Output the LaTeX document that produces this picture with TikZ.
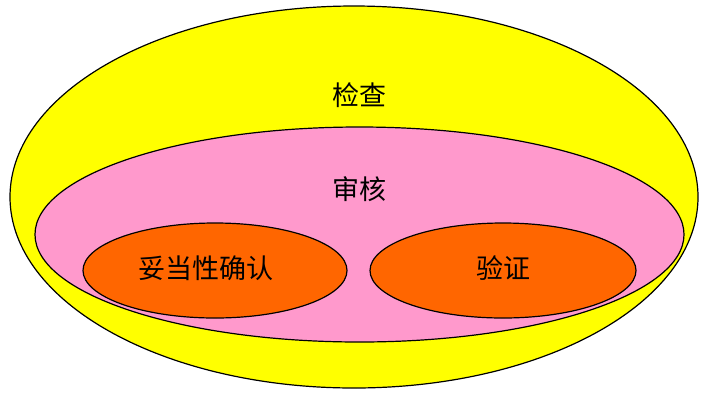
\documentclass[tikz,border=0pt]{standalone}
\usepackage{fontspec}
\newfontfamily\cjk{Noto Sans CJK SC}
\usepackage{tikz}
\usetikzlibrary{shapes, positioning}
\definecolor{yel}{HTML}{FFFF00}
\definecolor{pnk}{HTML}{FF99CC}
\definecolor{org}{HTML}{FF6600}

\begin{document}
\begin{tikzpicture}[x=1pt, y=-1pt,
	set/.style={ellipse, draw, line width=1.2pt, inner sep=0pt},
	lbl/.style={font=\cjk\fontsize{27}{27}\selectfont}]
	\useasboundingbox (0,0) rectangle (701,392);
	\node[set, fill=yel, minimum width=688pt, minimum height=382pt] (check) at (354,197) {};
	\node[set, fill=pnk, minimum width=649pt, minimum height=215pt] (review) at (359.5,234.5) {};
	\node[set, fill=org, minimum width=264pt, minimum height=95pt] (valid) at (215,270.5) {};
	\node[set, fill=org, minimum width=266pt, minimum height=95pt] (verif) at (503,270.5) {};
	
	\node[lbl] (check-t) at (359,95) {检查};
	\node[lbl] (review-t) at (359,189) {审核};
	\node[lbl] (valid-t) at (206,268) {妥当性确认};
	\node[lbl] (verif-t) at (503,268) {验证};
\end{tikzpicture}
\end{document}
